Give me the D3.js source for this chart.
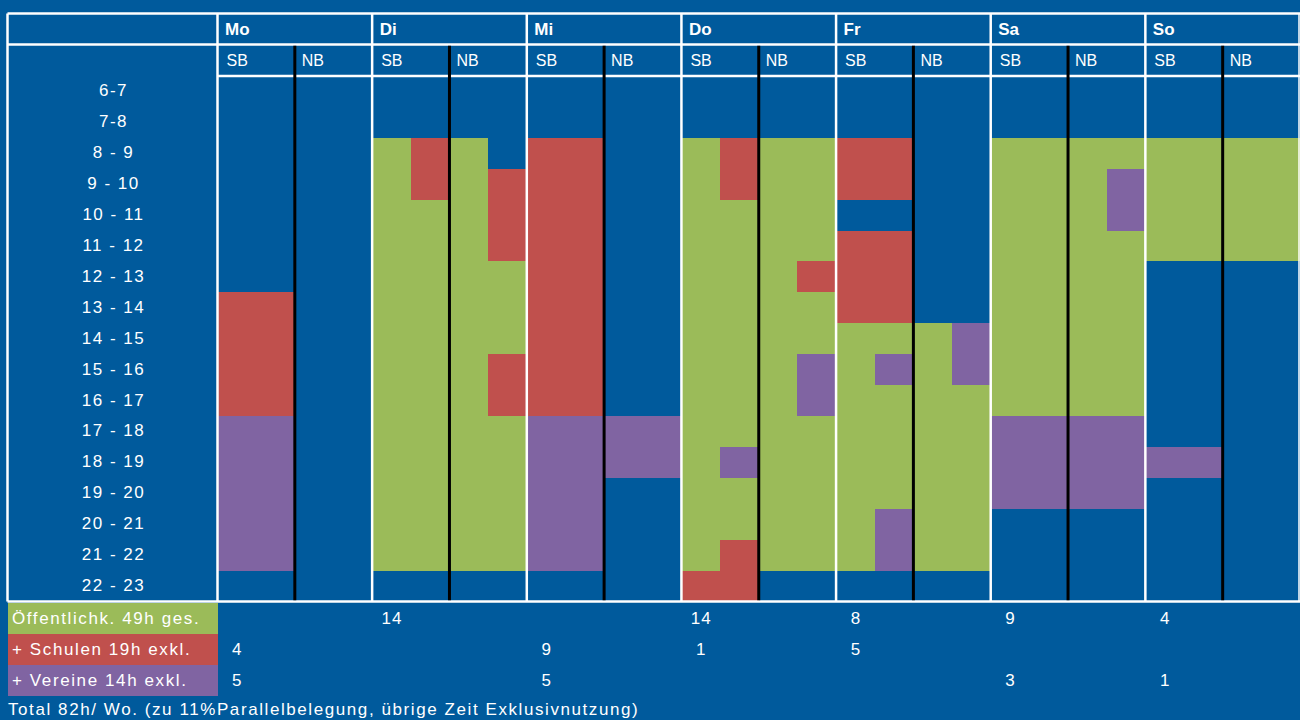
<!DOCTYPE html>
<html><head><meta charset="utf-8">
<script src="https://cdn.jsdelivr.net/npm/d3@7"></script>
<style>
html,body{margin:0;padding:0;background:#005A9C;}
svg{display:block;}
text{font-family:"Liberation Sans",Arial,sans-serif;fill:#fff;}
</style></head>
<body>
<svg id="chart" width="1300" height="720"></svg>
<script>
// ---- data ----
const days = ["Mo","Di","Mi","Do","Fr","Sa","So"];
const halves = ["SB","NB"];
const hours = ["6-7","7-8","8 - 9","9 - 10","10 - 11","11 - 12","12 - 13","13 - 14","14 - 15","15 - 16","16 - 17","17 - 18","18 - 19","19 - 20","20 - 21","21 - 22","22 - 23"];
// occupancy per day: 4 sub-columns (SB a, SB b, NB a, NB b), one char per hour row
// '.' free, 'G' Öffentlichkeit, 'R' Schulen, 'P' Vereine
const mo = [".......RRRRPPPPP.", ".......RRRRPPPPP.", ".................", "................."];
const di = ["..GGGGGGGGGGGGGG.", "..RRGGGGGGGGGGGG.", "..GGGGGGGGGGGGGG.", "...RRRGGGRRGGGGG."];
const mi = ["..RRRRRRRRRPPPPP.", "..RRRRRRRRRPPPPP.", "...........PP....", "...........PP...."];
const dOnn = ["..GGGGGGGGGGGGGGR", "..RRGGGGGGGGPGGRR", "..GGGGGGGGGGGGGG.", "..GGGGRGGPPGGGGG."];
const fr = ["..RR.RRRGGGGGGGG.", "..RR.RRRGPGGGGPP.", "........GGGGGGGG.", "........PPGGGGGG."];
const sa = ["..GGGGGGGGGPPP...", "..GGGGGGGGGPPP...", "..GGGGGGGGGPPP...", "..GPPGGGGGGPPP..."];
const so = ["..GGGG......P....", "..GGGG......P....", "..GGGG...........", "..GGGG..........."];
const schedule = [mo, di, mi, dOnn, fr, sa, so];

const legendLabels = ["Öffentlichk. 49h ges.", "+ Schulen 19h exkl.", "+ Vereine 14h exkl."];
const legendCodes = ["G","R","P"];
const publicHours = [null, 14, null, 14, 8, 9, 4];
const schoolHours = [4, null, 9, 1, 5, null, null];
const clubHours   = [5, null, 5, null, null, 3, 1];
const legendValues = [publicHours, schoolHours, clubHours];
const totalText = "Total 82h/ Wo. (zu 11%Parallelbelegung, übrige Zeit Exklusivnutzung)";

// ---- drawing ----
const BLUE = "#005A9C";
const color = d3.scaleOrdinal().domain([".","G","R","P"]).range([BLUE,"#9BBB59","#C0504D","#8064A2"]);

const svg = d3.select("#chart");
const W = 1300;
const left = 7.5, gridLeft = 217.5, gridRight = 1300;
const topY = 13.5, headY = 44.5, subY = 76, gridBottom = 601.5;

const x = d3.scaleBand().domain(days).range([gridLeft, gridRight]).paddingInner(0).paddingOuter(0);
const sub = d3.scaleBand().domain([0,1,2,3]).range([0, x.bandwidth()]);
const half = d3.scaleBand().domain(halves).range([0, x.bandwidth()]);
const y = d3.scaleBand().domain(hours).range([subY, gridBottom]);
const ly = d3.scaleBand().domain(legendLabels).range([gridBottom + 1, gridBottom + 1 + 3*31]);

svg.append("rect").attr("width",W).attr("height",720).attr("fill",BLUE);

// cells
const cells = [];
schedule.forEach((cols, di) => cols.forEach((str, si) => str.split("").forEach((c, hi) => {
  cells.push({day: days[di], s: si, h: hours[hi], c});
})));
svg.append("g").attr("shape-rendering","crispEdges")
  .selectAll("rect").data(cells.filter(d => d.c !== ".")).join("rect")
  .attr("x", d => Math.round(x(d.day) + sub(d.s)))
  .attr("y", d => Math.round(y(d.h)))
  .attr("width", d => Math.round(x(d.day) + sub(d.s) + sub.bandwidth()) - Math.round(x(d.day) + sub(d.s)))
  .attr("height", d => Math.round(y(d.h) + y.bandwidth()) - Math.round(y(d.h)))
  .attr("fill", d => color(d.c));

// legend boxes
svg.append("g").attr("shape-rendering","crispEdges")
  .selectAll("rect").data(legendLabels).join("rect")
  .attr("x", left).attr("y", d => ly(d))
  .attr("width", gridLeft - left).attr("height", ly.bandwidth())
  .attr("fill", (d,i) => color(legendCodes[i]));

// white grid lines
const wl = svg.append("g").attr("stroke","#fff").attr("stroke-width",2.5);
wl.append("line").attr("x1",left).attr("x2",W).attr("y1",topY).attr("y2",topY);
wl.append("line").attr("x1",left).attr("x2",W).attr("y1",headY).attr("y2",headY);
wl.append("line").attr("x1",gridLeft).attr("x2",W).attr("y1",subY).attr("y2",subY);
wl.append("line").attr("x1",left).attr("x2",W).attr("y1",gridBottom).attr("y2",gridBottom);
wl.append("line").attr("x1",left).attr("x2",left).attr("y1",topY).attr("y2",gridBottom);
wl.selectAll(".dl").data(days).join("line").attr("class","dl")
  .attr("x1", d => x(d)).attr("x2", d => x(d)).attr("y1", topY).attr("y2", gridBottom);
wl.append("line").attr("x1",W-1).attr("x2",W-1).attr("y1",topY).attr("y2",gridBottom).attr("stroke-width",1.5);

// black SB/NB dividers
svg.append("g").selectAll("line").data(days).join("line")
  .attr("x1", d => x(d) + half("NB")).attr("x2", d => x(d) + half("NB"))
  .attr("y1", headY + 1.2).attr("y2", gridBottom - 1.2)
  .attr("stroke","#000").attr("stroke-width",3);

// header text
svg.append("g").selectAll("text").data(days).join("text")
  .attr("x", d => x(d) + 7.5).attr("y", 35)
  .attr("font-size", 17).attr("font-weight","bold").text(d => d);
const subHeads = [];
days.forEach(d => halves.forEach(h => subHeads.push({d,h})));
svg.append("g").selectAll("text").data(subHeads).join("text")
  .attr("x", o => x(o.d) + half(o.h) + (o.h === "SB" ? 9 : 7)).attr("y", 66)
  .attr("font-size", 16).text(o => o.h);

// hour labels
svg.append("g").selectAll("text").data(hours).join("text")
  .attr("x", (left + gridLeft)/2 + 1).attr("y", d => y(d) + y.bandwidth()/2 + 5)
  .attr("text-anchor","middle").attr("font-size",17).attr("letter-spacing",1.5)
  .text(d => d);

// legend labels
svg.append("g").selectAll("text").data(legendLabels).join("text")
  .attr("x", 12).attr("y", d => ly(d) + ly.bandwidth()/2 + 5.5)
  .attr("font-size",17).attr("letter-spacing",1.6).attr("fill","#f2f2f2")
  .text(d => d);

// legend values
const vals = [];
legendValues.forEach((arr, li) => arr.forEach((v, di) => { if (v !== null) vals.push({li, day: days[di], v}); }));
svg.append("g").selectAll("text").data(vals).join("text")
  .attr("x", d => x(d.day) + sub(0) + sub.bandwidth()/2 + 0.5)
  .attr("y", d => ly(legendLabels[d.li]) + ly.bandwidth()/2 + 5.5)
  .attr("text-anchor","middle").attr("font-size",17).attr("letter-spacing",1)
  .text(d => d.v);

// total
svg.append("text").attr("x", 8).attr("y", 715)
  .attr("font-size",17).attr("letter-spacing",1.58).text(totalText);
</script>
</body></html>
